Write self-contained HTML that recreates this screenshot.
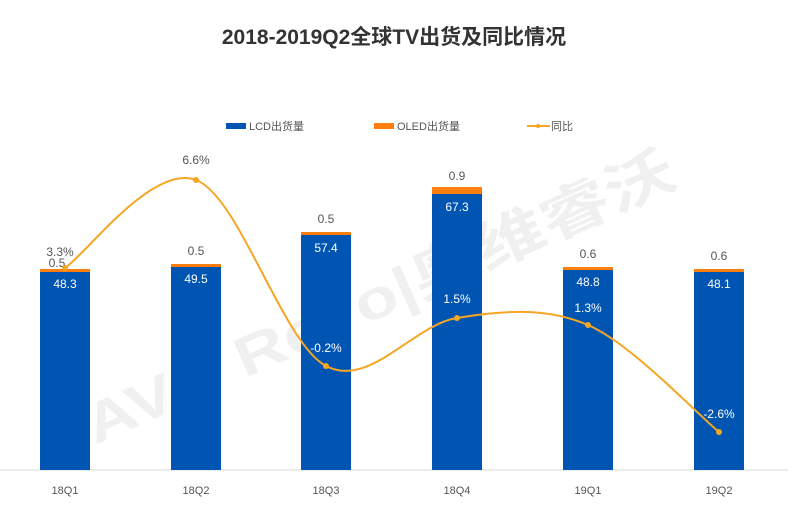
<!DOCTYPE html>
<html><head><meta charset="utf-8"><style>
body{margin:0;background:#fff;}
svg{display:block;font-family:"Liberation Sans","Noto Sans CJK SC",sans-serif;}
</style></head><body>
<svg width="788" height="518" viewBox="0 0 788 518" xmlns="http://www.w3.org/2000/svg">
<rect width="788" height="518" fill="#fff"/>
<text x="394" y="44" text-anchor="middle" font-size="21" font-weight="bold" fill="#333">2018-2019Q2全球TV出货及同比情况</text>
<rect x="226" y="123" width="20" height="6" fill="#0055b3"/>
<text x="249" y="130" font-size="11" fill="#555">LCD出货量</text>
<rect x="374" y="123" width="20" height="6" fill="#ff7f0e"/>
<text x="397" y="130" font-size="11" fill="#555">OLED出货量</text>
<line x1="527" y1="126" x2="550" y2="126" stroke="#f5a623" stroke-width="2"/>
<circle cx="538" cy="126" r="2" fill="#f5a623"/>
<text x="551" y="130" font-size="11" fill="#555">同比</text>
<text x="95" y="445" font-size="56" font-weight="bold" fill="#000" fill-opacity="0.06" textLength="640" lengthAdjust="spacingAndGlyphs" transform="rotate(-24 95 445)">AVC Revo|奥维睿沃</text>
<line x1="0" y1="470" x2="788" y2="470" stroke="#d9d9d9"/>
<g fill="#0055b3">
<rect x="40" y="272" width="50" height="198"/>
<rect x="171" y="267" width="50" height="203"/>
<rect x="301" y="235" width="50" height="235"/>
<rect x="432" y="194" width="50" height="276"/>
<rect x="563" y="270" width="50" height="200"/>
<rect x="694" y="272" width="50" height="198"/>
</g>
<g fill="#ff7f0e">
<rect x="40" y="269" width="50" height="3"/>
<rect x="171" y="264" width="50" height="3"/>
<rect x="301" y="232" width="50" height="3"/>
<rect x="432" y="187" width="50" height="7"/>
<rect x="563" y="267" width="50" height="3"/>
<rect x="694" y="269" width="50" height="3"/>
</g>
<g font-size="12" fill="#fff" text-anchor="middle">
<text x="65" y="288">48.3</text>
<text x="196" y="283">49.5</text>
<text x="326" y="252">57.4</text>
<text x="457" y="211">67.3</text>
<text x="588" y="286">48.8</text>
<text x="719" y="288">48.1</text>
</g>
<g font-size="12" fill="#555" text-anchor="middle">
<text x="57" y="267">0.5</text>
<text x="196" y="255">0.5</text>
<text x="326" y="223">0.5</text>
<text x="457" y="180">0.9</text>
<text x="588" y="258">0.6</text>
<text x="719" y="260">0.6</text>
<text x="60" y="256">3.3%</text>
<text x="196" y="164">6.6%</text>
</g>
<path d="M65,268 C87,253 152.5,163.7 196,180 C239.5,196.3 282.5,343 326,366 C369.5,389 413.3,324.8 457,318 C500.7,311.2 544.3,306 588,325 C631.7,344 697,414 719,432" fill="none" stroke="#f5a623" stroke-width="2"/>
<g fill="#f5a623">
<circle cx="65" cy="268" r="3"/><circle cx="196" cy="180" r="3"/><circle cx="326" cy="366" r="3"/>
<circle cx="457" cy="318" r="3"/><circle cx="588" cy="325" r="3"/><circle cx="719" cy="432" r="3"/>
</g>
<g font-size="12" fill="#fff" text-anchor="middle">
<text x="326" y="352">-0.2%</text>
<text x="457" y="303">1.5%</text>
<text x="588" y="312">1.3%</text>
<text x="719" y="418">-2.6%</text>
</g>
<g font-size="11" fill="#555" text-anchor="middle">
<text x="65" y="494">18Q1</text>
<text x="196" y="494">18Q2</text>
<text x="326" y="494">18Q3</text>
<text x="457" y="494">18Q4</text>
<text x="588" y="494">19Q1</text>
<text x="719" y="494">19Q2</text>
</g>
</svg>
</body></html>
